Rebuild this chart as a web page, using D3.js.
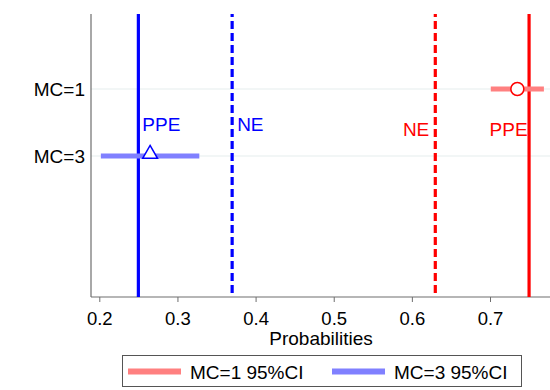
<!DOCTYPE html>
<html><head><meta charset="utf-8">
<script src="https://cdn.jsdelivr.net/npm/d3@7"></script>
<style>body{margin:0;background:#fff}svg{display:block}text{font-family:"Liberation Sans",Arial,sans-serif}</style>
</head><body>
<svg id="c" width="550" height="390"></svg>
<script>
const categories = ["MC=1", "MC=3"];
const rowIndex = [1, 3];
const pointEst = [0.735, 0.265];
const ciLow = [0.701, 0.202];
const ciHigh = [0.769, 0.328];
const xTicks = [0.2, 0.3, 0.4, 0.5, 0.6, 0.7];
const refValues = [0.25, 0.37, 0.63, 0.75];
const refLabels = ["PPE", "NE", "NE", "PPE"];
const refColors = ["#0000ff", "#0000ff", "#ff0000", "#ff0000"];
const refDashed = [false, true, true, false];
const ciColors = ["#ff8080", "#8080ff"];
const markColors = ["#ff0000", "#0000ff"];
const legendLabels = ["MC=1 95%CI", "MC=3 95%CI"];

const svg = d3.select("#c");
const x = d3.scaleLinear().domain([0.2, 0.7]).range([99.3, 490]);
const y = d3.scaleLinear().domain([1, 3]).range([89, 156]);
const pTop = 14, pBottom = 297, pLeft = 91, pRight = 550;

// gridlines
svg.selectAll(".grid").data(rowIndex).join("line")
  .attr("x1", pLeft).attr("x2", pRight)
  .attr("y1", d => y(d)).attr("y2", d => y(d))
  .attr("stroke", "#eef3f3").attr("stroke-width", 1.5);

// x axis
const xAxis = svg.append("g").attr("transform", `translate(0,${pBottom})`)
  .call(d3.axisBottom(x).tickValues(xTicks).tickFormat(d3.format(".1f")).tickSize(5).tickSizeOuter(0));
xAxis.select(".domain").remove();
xAxis.append("line").attr("x1", pLeft).attr("x2", pRight).attr("stroke", "#6e6e6e").attr("stroke-width", 1.2);
xAxis.selectAll(".tick line").attr("stroke", "#6e6e6e");
xAxis.selectAll(".tick text").attr("fill", "#000").attr("font-size", 18.5)
  .attr("dy", null).attr("y", 28).attr("font-family", "Liberation Sans, Arial, sans-serif");

// y axis
svg.append("line").attr("x1", pLeft).attr("x2", pLeft).attr("y1", pTop).attr("y2", pBottom)
  .attr("stroke", "#6e6e6e").attr("stroke-width", 1.2);
svg.selectAll(".ylab").data(categories).join("text")
  .attr("x", 85).attr("y", (d, i) => y(rowIndex[i]) + 7)
  .attr("text-anchor", "end").attr("font-size", 19).attr("fill", "#000").text(d => d);

// axis title
svg.append("text").attr("x", 321).attr("y", 345).attr("text-anchor", "middle")
  .attr("font-size", 19).attr("fill", "#000").text("Probabilities");

// reference lines
svg.selectAll(".ref").data(refValues).join("line")
  .attr("x1", d => x(d)).attr("x2", d => x(d)).attr("y1", pTop).attr("y2", pBottom)
  .attr("stroke", (d, i) => refColors[i]).attr("stroke-width", 3.2)
  .attr("stroke-dasharray", (d, i) => refDashed[i] ? "8,4" : null)
  .attr("stroke-dashoffset", (d, i) => refDashed[i] ? 5 : null);

// ref labels
const labOff = [4, 5, -6, -1.5];
svg.selectAll(".reflab").data(refValues).join("text")
  .attr("x", (d, i) => x(d) + labOff[i])
  .attr("y", (d, i) => i < 2 ? 130.5 : 136)
  .attr("text-anchor", (d, i) => i < 2 ? "start" : "end")
  .attr("font-size", 19).attr("fill", (d, i) => refColors[i]).text((d, i) => refLabels[i]);

// CIs
svg.selectAll(".ci").data(rowIndex).join("line")
  .attr("x1", (d, i) => x(ciLow[i])).attr("x2", (d, i) => x(ciHigh[i]))
  .attr("y1", d => y(d)).attr("y2", d => y(d))
  .attr("stroke", (d, i) => ciColors[i]).attr("stroke-width", 5);

// points
svg.append("circle").attr("cx", x(pointEst[0])).attr("cy", y(rowIndex[0])).attr("r", 6.5)
  .attr("fill", "#fff").attr("stroke", markColors[0]).attr("stroke-width", 1.5);
const tri = d3.symbol().type(d3.symbolTriangle).size(95);
svg.append("path").attr("d", tri())
  .attr("transform", `translate(${x(pointEst[1])},${y(rowIndex[1]) - 2})`)
  .attr("fill", "#fff").attr("stroke", markColors[1]).attr("stroke-width", 1.5);

// legend
svg.append("rect").attr("x", 122.5).attr("y", 355.5).attr("width", 399).attr("height", 31)
  .attr("fill", "#fff").attr("stroke", "#555").attr("stroke-width", 1);
const legX = [128, 332];
legendLabels.forEach((l, i) => {
  svg.append("line").attr("x1", legX[i]).attr("x2", legX[i] + 53).attr("y1", 371.5).attr("y2", 371.5)
    .attr("stroke", ciColors[i]).attr("stroke-width", 6);
  svg.append("text").attr("x", legX[i] + 62).attr("y", 379).attr("font-size", 19)
    .attr("fill", "#000").text(l);
});
</script>
</body></html>
